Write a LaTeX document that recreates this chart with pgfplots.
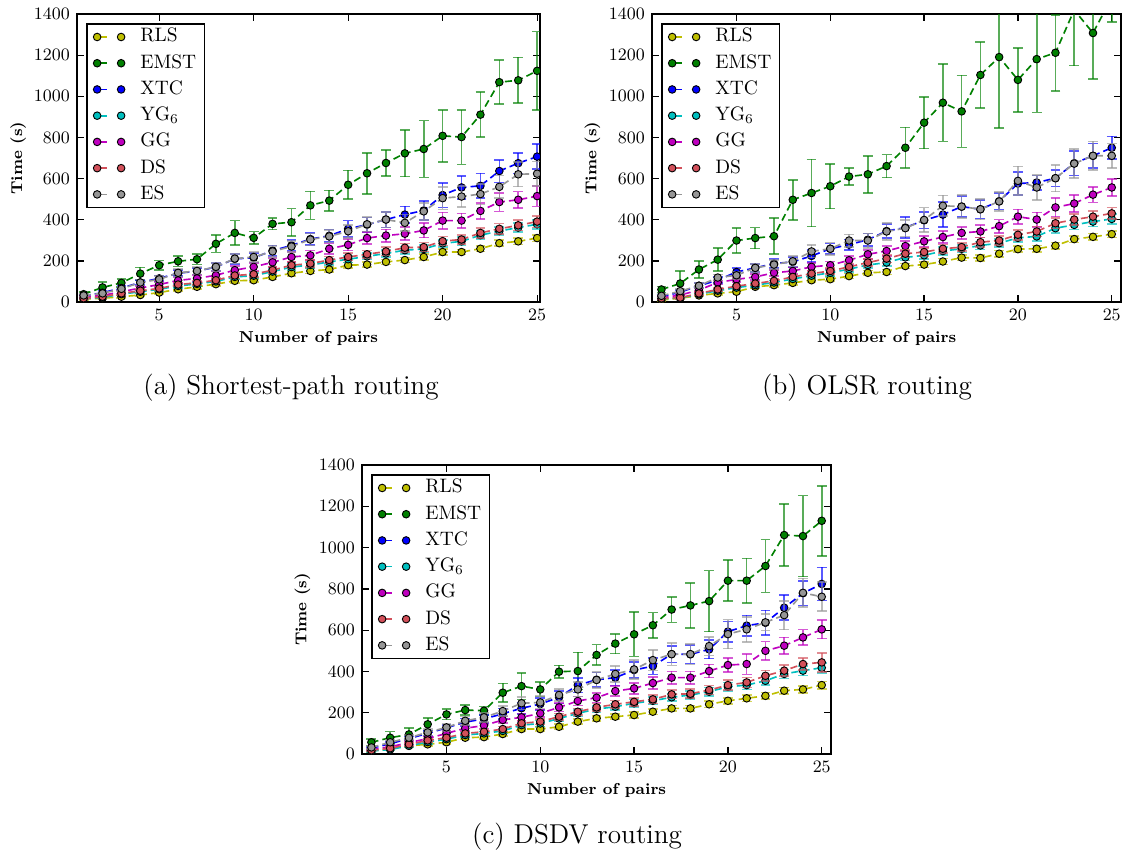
\documentclass[border=0pt]{standalone}
\usepackage{fontspec}
\usepackage{pgfplots}
\usepackage{pgfplotstable}
\pgfplotsset{compat=1.18}

\definecolor{cRLS}{rgb}{0.75,0.75,0}
\definecolor{cEMST}{rgb}{0,0.5,0}
\definecolor{cXTC}{rgb}{0,0,1}
\definecolor{cYG}{rgb}{0,0.75,0.75}
\definecolor{cGG}{rgb}{0.75,0,0.75}
\definecolor{cDS}{RGB}{210,80,90}
\definecolor{cES}{RGB}{150,150,150}

% x, then value and error for RLS EMST XTC YG6 GG DS ES
\pgfplotstableread{
x rls rlse emst emste xtc xtce yg yge gg gge ds dse es ese
1 14 4 38 10 30 6 17 4 24 5 18 4 32 6
2 18 5 71 25 45 8 22 5 32 6 26 5 42 8
3 26 6 93 20 68 10 38 6 50 8 42 7 64 10
4 34 7 138 30 95 12 50 7 68 10 55 8 95 14
5 46 8 179 22 115 14 62 8 85 12 66 9 110 15
6 62 8 198 25 140 15 78 9 105 14 85 10 142 18
7 74 10 208 25 150 16 88 10 115 15 93 11 151 18
8 87 10 283 42 170 20 100 10 130 18 106 12 171 20
9 103 10 336 60 210 24 122 12 155 20 129 14 211 24
10 106 10 312 30 215 22 128 12 171 20 135 14 219 25
11 122 12 380 28 250 25 148 14 193 22 155 15 246 26
12 140 12 388 66 275 28 170 14 219 24 179 16 270 28
13 151 12 470 68 306 30 180 15 227 24 187 16 304 30
14 158 12 493 50 322 30 195 15 259 25 204 17 319 30
15 179 14 570 70 356 40 208 16 278 28 219 18 344 32
16 182 12 626 100 376 35 222 16 311 30 232 18 378 35
17 195 12 676 62 401 38 236 16 323 30 246 20 401 38
18 204 12 723 113 425 40 252 18 332 32 264 20 385 40
19 219 14 744 138 445 45 258 18 348 35 267 22 441 42
20 243 14 808 127 520 60 285 18 396 40 296 22 505 55
21 243 12 802 133 557 55 295 20 396 35 304 22 513 50
22 259 14 911 109 565 60 325 20 443 40 336 24 525 50
23 286 15 1069 107 637 55 345 20 486 45 356 25 560 55
24 295 15 1078 111 675 50 362 22 497 40 373 25 621 60
25 311 16 1124 191 707 60 378 22 515 50 391 28 624 60
}\tabA

\pgfplotstableread{
x rls rlse emst emste xtc xtce yg yge gg gge ds dse es ese
1 10 4 61 15 25 8 16 4 20 5 18 4 30 8
2 18 5 90 60 48 10 20 5 34 6 21 5 53 10
3 32 6 158 41 79 12 38 6 58 8 42 7 79 12
4 42 7 206 56 106 15 55 8 95 10 61 8 119 15
5 50 8 299 61 146 18 70 8 110 12 77 9 130 18
6 74 8 311 51 166 20 82 9 122 14 90 10 166 20
7 82 9 320 87 187 22 95 10 142 15 103 11 182 22
8 93 10 497 97 195 25 112 12 151 16 122 12 198 25
9 106 10 530 163 224 28 128 12 171 18 138 14 246 30
10 111 10 563 109 259 25 142 14 179 18 151 14 259 30
11 126 12 610 42 279 25 160 14 203 20 171 16 299 30
12 142 12 621 90 303 30 180 15 232 22 192 16 299 35
13 146 12 661 56 345 35 192 16 248 24 211 18 343 40
14 175 12 750 99 362 50 217 16 272 24 235 18 359 40
15 182 14 872 126 397 40 227 18 295 26 243 20 399 60
16 197 14 969 188 425 60 248 18 316 28 259 20 468 50
17 216 14 927 175 464 50 259 18 336 30 267 20 464 55
18 214 14 1104 161 451 45 275 20 343 30 291 22 451 50
19 235 15 1191 345 490 40 286 20 369 32 299 22 489 45
20 257 15 1080 155 576 55 312 20 415 35 327 24 589 70
21 259 15 1181 259 581 35 319 22 401 35 343 24 557 60
22 274 16 1212 185 602 40 359 22 460 45 383 26 602 65
23 306 16 1420 270 675 60 375 22 479 40 401 26 673 70
24 317 16 1308 225 711 60 391 24 522 38 415 28 711 70
25 330 16 1480 120 750 55 404 24 557 40 431 28 711 60
}\tabB

\pgfplotstableread{
x rls rlse emst emste xtc xtce yg yge gg gge ds dse es ese
1 15 4 57 15 28 6 14 4 22 5 18 4 32 8
2 25 5 79 30 50 8 22 5 35 6 28 5 57 10
3 40 6 95 30 75 10 40 6 55 8 47 7 79 12
4 47 7 144 30 100 12 58 8 75 10 66 8 105 15
5 57 8 192 25 127 15 72 8 100 12 79 9 129 18
6 79 8 213 25 155 18 92 9 125 14 100 10 161 20
7 82 9 210 20 170 20 100 10 138 15 108 11 178 22
8 97 10 297 45 195 25 112 12 165 16 121 12 208 25
9 121 10 329 65 222 28 140 12 178 18 149 14 246 30
10 121 10 313 35 242 28 148 14 197 18 157 14 250 30
11 132 12 399 30 275 30 172 14 226 20 181 16 286 30
12 157 12 402 90 334 35 197 15 257 22 205 16 313 35
13 173 12 480 50 360 35 218 16 273 24 226 18 359 40
14 181 12 535 48 370 38 229 16 305 24 241 18 388 40
15 189 14 580 107 407 40 246 18 318 26 253 20 410 45
16 205 14 624 61 426 40 258 18 344 28 265 20 455 50
17 221 14 700 62 484 40 275 18 370 30 289 20 484 55
18 221 14 720 110 483 45 286 20 370 30 292 22 484 50
19 241 15 741 148 507 45 302 20 402 32 310 22 523 45
20 258 15 840 100 593 50 326 20 431 35 334 24 581 70
21 270 15 840 108 622 50 334 22 436 50 347 24 604 60
22 282 16 911 128 636 60 355 22 500 45 379 26 638 40
23 307 16 1061 149 709 60 388 22 525 40 404 26 673 70
24 313 16 1056 196 779 60 404 24 565 38 436 28 781 70
25 334 18 1130 170 824 80 418 24 604 45 444 45 762 70
}\tabC

\pgfplotsset{
  ser/.style={color=#1, line width=0.8pt, dash pattern=on 3.5pt off 2pt,
    mark=*, mark size=1.85pt,
    mark options={solid, draw=black, fill=#1, line width=0.45pt},
    error bars/y dir=both, error bars/y explicit,
    error bars/error bar style={color=#1, line width=0.8pt, solid, draw opacity=0.65},
    error bars/error mark options={rotate=90, color=#1, solid, mark size=2.4pt, line width=0.8pt, draw opacity=0.65}},
  panel/.style={scale only axis, height=140.5pt, anchor=south west,
    ymin=0, ymax=1400, ytick={0,200,...,1400}, xtick={5,10,...,25},
    tick align=inside, major tick length=3.4pt,
    axis line style={line width=0.9pt},
    every tick/.style={black, line width=0.6pt},
    ticklabel style={font=\fontsize{8.5}{10}\selectfont},
    /pgf/number format/assume math mode=true,
    /pgf/number format/1000 sep={},
    xlabel={Number of pairs}, ylabel={Time (s)},
    every axis x label/.style={at={(axis description cs:0.5,-0.125)}, anchor=center},
    every axis y label/.style={at={(axis description cs:-0.127,0.5)}, anchor=center, rotate=90},
    label style={font=\bfseries\fontsize{7.7}{9.5}\selectfont},
    clip marker paths=true,
    legend cell align=left,
    legend style={at={(axis description cs:0,1)}, anchor=north west,
      xshift=4.6pt, yshift=-4.4pt, draw=black, line width=0.75pt,
      font=\fontsize{9.5}{11}\selectfont, inner xsep=3pt, inner ysep=1pt,
      row sep=2pt, column sep=6.5pt,
      nodes={inner sep=1pt, text height=6.8pt, text depth=2pt}},
    legend image code/.code={
      \draw[##1, solid] (0pt,0pt) -- (5pt,0pt);
      \draw[##1, solid] plot[only marks] coordinates {(0pt,0pt) (11.7pt,0pt)};
    }}
}

\newcommand{\panelplots}[1]{
  \addplot[ser=cRLS] table[x=x, y=rls, y error=rlse] {#1};
  \addplot[ser=cEMST] table[x=x, y=emst, y error=emste] {#1};
  \addplot[ser=cXTC] table[x=x, y=xtc, y error=xtce] {#1};
  \addplot[ser=cYG] table[x=x, y=yg, y error=yge] {#1};
  \addplot[ser=cGG] table[x=x, y=gg, y error=gge] {#1};
  \addplot[ser=cDS] table[x=x, y=ds, y error=dse] {#1};
  \addplot[ser=cES] table[x=x, y=es, y error=ese] {#1};
  \legend{RLS, EMST, XTC, YG\textsubscript{6}, GG, DS, ES}
}

\begin{document}
\begin{tikzpicture}
\path[use as bounding box] (0,0) rectangle (548pt,-416.3pt);

\begin{axis}[panel, at={(37.58pt,-147.38pt)}, width=225.9pt, xmin=0.65, xmax=25.15]
\panelplots{\tabA}
\end{axis}

\begin{axis}[panel, at={(318.18pt,-147.38pt)}, width=228.9pt, xmin=0.5, xmax=25.5]
\panelplots{\tabB}
\end{axis}

\begin{axis}[panel, at={(176.66pt,-367.95pt)}, width=228.9pt, height=141pt, xmin=0.5, xmax=25.5]
\panelplots{\tabC}
\end{axis}

\node[anchor=base, font=\fontsize{13.3}{16}\selectfont] at (142pt,-192.5pt) {(a) Shortest-path routing};
\node[anchor=base, font=\fontsize{13.3}{16}\selectfont] at (423.1pt,-192.5pt) {(b) OLSR routing};
\node[anchor=base, font=\fontsize{13.3}{16}\selectfont] at (281.6pt,-411.6pt) {(c) DSDV routing};
\end{tikzpicture}
\end{document}
